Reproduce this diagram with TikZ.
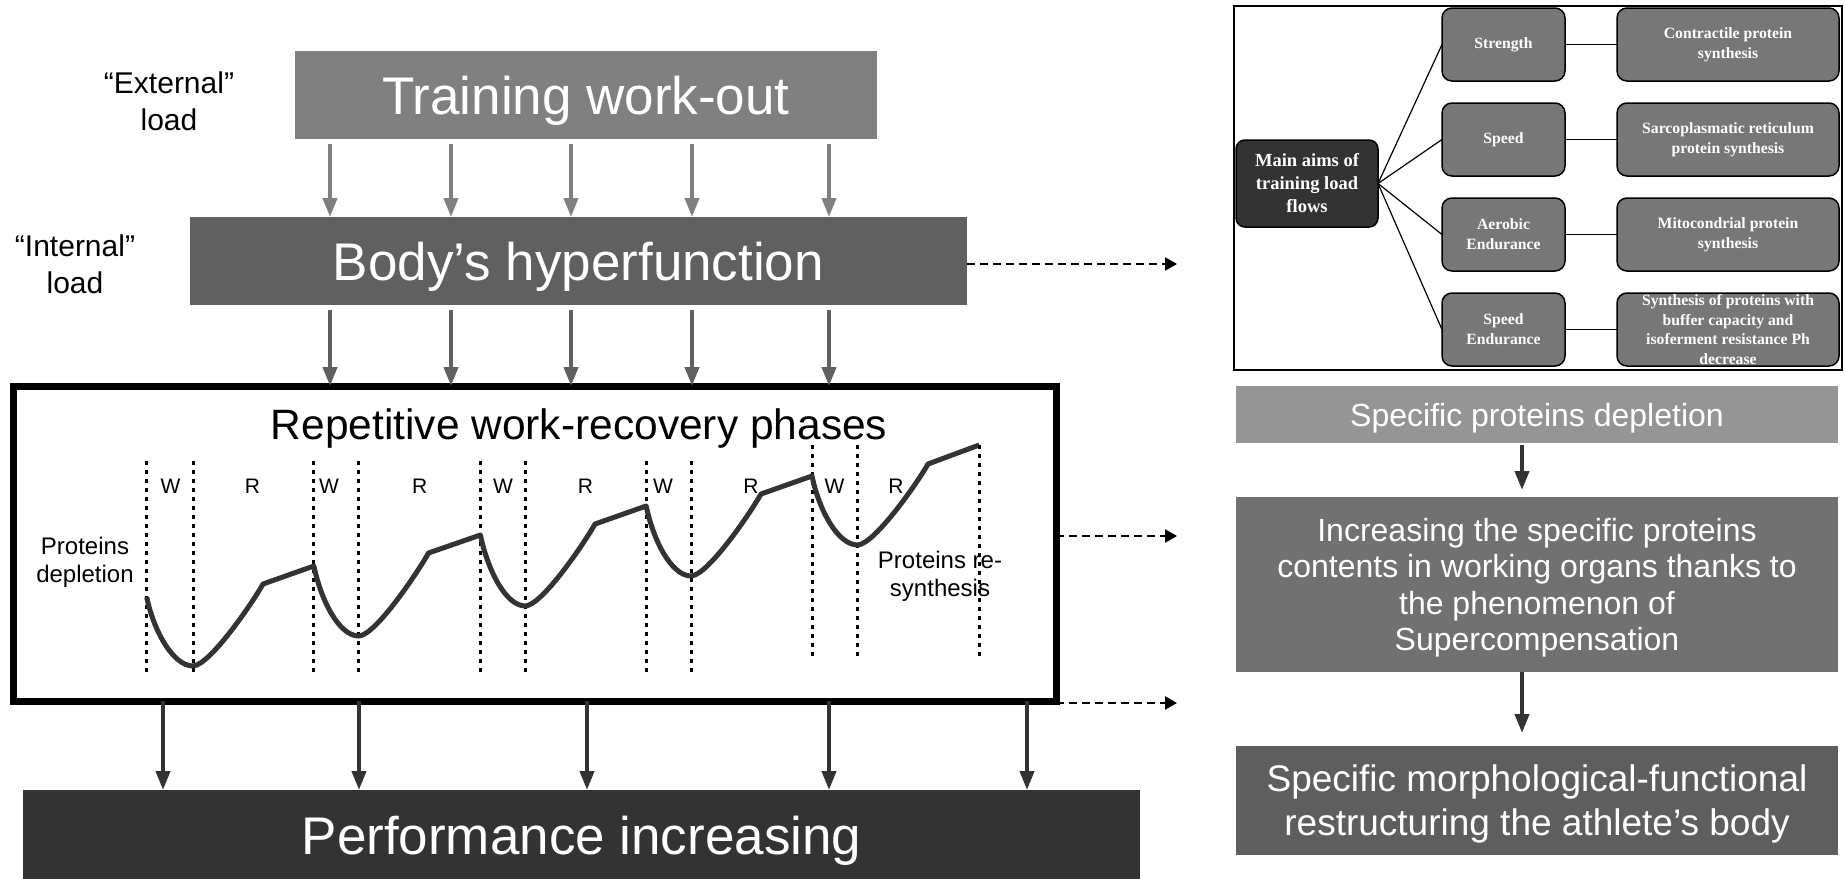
\documentclass[tikz,border=0pt]{standalone}
\usepackage{fontspec}
\setmainfont{Liberation Sans}
\newfontfamily\panelfont{Liberation Serif}
\usetikzlibrary{arrows.meta,calc}
\definecolor{gA}{HTML}{808080}
\definecolor{gB}{HTML}{606060}
\definecolor{gC}{HTML}{333333}
\definecolor{gD}{HTML}{959595}
\definecolor{gE}{HTML}{717171}
\definecolor{gF}{HTML}{5E5E5E}
\definecolor{gP}{HTML}{777777}
\begin{document}
\begin{tikzpicture}[x=1pt,y=-1pt,
  every node/.style={inner sep=0pt,outer sep=0pt},
  bigbox/.style={rectangle,text=white,align=center,text depth=0pt,font=\fontsize{53}{60}\selectfont},
  flowbox/.style={rectangle,text=white,align=center,text depth=0pt,minimum width=602pt,font=\fontsize{32}{36.5}\selectfont},
  lbl/.style={align=center,text=black,font=\fontsize{30}{37}\selectfont},
  small/.style={align=center,text=black,font=\fontsize{24}{28}\selectfont},
  wr/.style={text=black,font=\fontsize{21}{24}\selectfont},
  arrA/.style={draw=gA,line width=4pt,-{Triangle[length=19pt,width=14pt]},shorten <=5pt},
  arrB/.style={draw=gB,line width=4pt,-{Triangle[length=19pt,width=14pt]},shorten <=5pt},
  arrC/.style={draw=gC,line width=4pt,-{Triangle[length=19pt,width=14pt]}},
  dashA/.style={draw=black,line width=2.5pt,dash pattern=on 8pt off 5pt,-{Triangle[length=12pt,width=13pt]}},
  dotl/.style={draw=black,line width=3pt,dash pattern=on 4pt off 5pt},
  curve/.style={draw=gC,line width=5pt,line join=round},
  mainbox/.style={rectangle,rounded corners=9pt,draw=black,line width=1.5pt,fill=gC,text=white,align=center,
    minimum width=142pt,minimum height=87pt,font=\panelfont\bfseries\fontsize{18.5}{23}\selectfont},
  midbox/.style={rectangle,rounded corners=10pt,draw=black,line width=1.5pt,fill=gP,text=white,align=center,
    minimum width=123pt,minimum height=73pt,font=\panelfont\bfseries\fontsize{15.7}{20}\selectfont},
  rightbox/.style={rectangle,rounded corners=10pt,draw=black,line width=1.5pt,fill=gP,text=white,align=center,
    minimum width=222pt,minimum height=73pt,font=\panelfont\bfseries\fontsize{15.7}{19.5}\selectfont},
  link/.style={draw=black,line width=1.2pt}
]
\useasboundingbox (0,0) rectangle (1846,878);
\fill[white] (0,0) rectangle (1846,878);

% ---------- left column ----------
\node[bigbox,fill=gA,minimum width=582pt,minimum height=88pt] (train) at (586,95) {Training work-out};
\node[bigbox,fill=gB,minimum width=777pt,minimum height=88pt] (body) at (578.5,261) {Body’s hyperfunction};
\node[rectangle,draw=black,line width=7pt,minimum width=1043pt,minimum height=315pt] (rep) at (534.5,543.5) {};
\node[text=black,text depth=0pt,font=\fontsize{42.5}{48}\selectfont] (reptitle) at (579,424) {Repetitive work-recovery phases};
\node[bigbox,fill=gC,minimum width=1117pt,minimum height=90pt] (perf) at (581.5,835) {Performance increasing};

\node[lbl] (ext) at (169,101) {“External”\\load};
\node[lbl] (int) at (75,264) {“Internal”\\load};

% arrow columns
\foreach \n/\x in {1/330,2/451,3/571,4/692,5/829}{\coordinate (c\n) at (\x,0);}
\foreach \n in {1,...,5}{
  \draw[arrA] (train.south -| c\n) -- (body.north -| c\n);
  \draw[arrB] (body.south -| c\n) -- (rep.north -| c\n);
}
\foreach \n/\x in {1/163,2/359,3/587,4/829,5/1027}{\coordinate (d\n) at (\x,0);}
\foreach \n in {1,...,5}{
  \draw[arrC] (rep.south -| d\n) -- (perf.north -| d\n);
}

% dotted phase lines
\foreach \x in {146.7,193.1,313.9,358.9,480.4,525.4,646.2,691.2}{
  \draw[dotl] (\x,461) -- (\x,673);
}
\foreach \x in {812,857.7}{
  \draw[dotl] (\x,445) -- (\x,657);
}
% W / R labels
\foreach \x/\t in {170.6/W,252.5/R,329/W,419.6/R,503/W,585.5/R,663/W,751/R,834.5/W,896/R}{
  \node[wr] at (\x,486) {\t};
}
% curve
\draw[curve] (146.7,597)
  .. controls +(7,34) and +(-20,0) .. (193.1,666)
  .. controls +(17,-1) and +(-10,18) .. (263,584) -- (313.9,566)
  .. controls +(7,34) and +(-20,0) .. (358.9,636)
  .. controls +(17,-1) and +(-10,18) .. (428.5,553) -- (480.4,535)
  .. controls +(7,34) and +(-20,0) .. (525.4,606)
  .. controls +(17,-1) and +(-10,18) .. (595,524) -- (646.2,506)
  .. controls +(7,34) and +(-20,0) .. (691.2,576)
  .. controls +(17,-1) and +(-10,18) .. (761,494) -- (812,476)
  .. controls +(7,34) and +(-20,0) .. (857.7,545)
  .. controls +(17,-1) and +(-10,18) .. (928,464) -- (979.2,445);

\node[small] (pdep) at (85,562) {Proteins\\depletion};
\node[small] (pres) at (940,576) {Proteins re-\\synthesis};
\draw[dotl] (979.2,445) -- (979.2,657);

% dashed connectors
\coordinate (t1) at (1177,264);
\coordinate (t2) at (1177,536);
\coordinate (t3) at (1177,703);
\draw[dashA] (body.east |- t1) -- (t1);
\draw[dashA] (rep.east |- t2) -- (t2);
\draw[dashA] (rep.east |- t3) -- (t3);

% ---------- right column ----------
\node[flowbox,fill=gD,minimum height=57pt] (spd) at (1537,414.5) {Specific proteins depletion};
\node[flowbox,fill=gE,minimum height=175pt] (inc) at (1537,584.5) {Increasing the specific proteins\\contents in working organs thanks to\\the phenomenon of\\Supercompensation};
\node[flowbox,fill=gF,minimum height=109pt,font=\fontsize{37}{44}\selectfont] (morph) at (1537,800.5) {Specific morphological-functional\\restructuring the athlete’s body};
\coordinate (f1) at (1522,0);
\draw[arrC,shorten <=2pt,shorten >=7pt] (spd.south -| f1) -- (inc.north -| f1);
\draw[arrC,shorten <=0pt,shorten >=13pt] (inc.south -| f1) -- (morph.north -| f1);

% ---------- top-right panel ----------
\node[rectangle,draw=black,line width=2pt,minimum width=608pt,minimum height=364pt] (panel) at (1538,188) {};
\node[mainbox] (aims) at (1307,183.5) {Main aims of\\training load\\flows};
\node[midbox] (m1) at (1503.5,44.5) {Strength};
\node[midbox] (m2) at (1503.5,139.5) {Speed};
\node[midbox] (m3) at (1503.5,234.5) {Aerobic\\Endurance};
\node[midbox] (m4) at (1503.5,329.5) {Speed\\Endurance};
\node[rightbox] (r1) at (1728,44.5) {Contractile protein\\synthesis};
\node[rightbox] (r2) at (1728,139.5) {Sarcoplasmatic reticulum\\protein synthesis};
\node[rightbox] (r3) at (1728,234.5) {Mitocondrial protein\\synthesis};
\node[rightbox] (r4) at (1728,329.5) {Synthesis of proteins with\\buffer capacity and\\isoferment resistance Ph\\decrease};
\foreach \i in {1,...,4}{
  \draw[link] (aims.east) -- (m\i.west);
  \draw[link] (m\i.east) -- (r\i.west);
}
\end{tikzpicture}
\end{document}
